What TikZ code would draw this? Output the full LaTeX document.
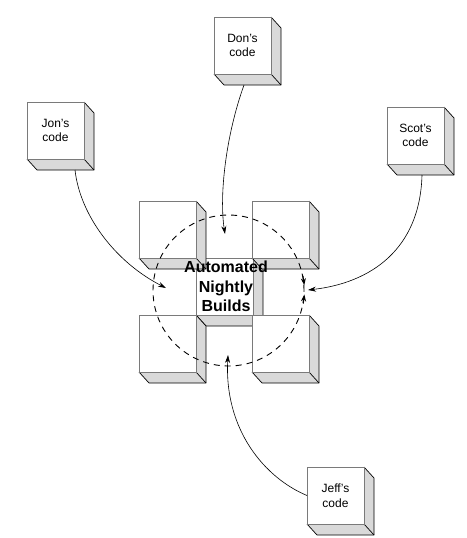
\documentclass[tikz,border=0pt]{standalone}
\usepackage{fontspec}
\setmainfont{Liberation Sans}
\usetikzlibrary{calc,arrows.meta}
\definecolor{facegray}{HTML}{D9D9D9}
\definecolor{edgegray}{HTML}{7A7A7A}
\tikzset{
  sidefill/.style={fill=facegray},
  sideedge/.style={draw=black,line width=0.7pt,line join=round},
  cubefront/.style={draw=edgegray,line width=0.8pt,fill=white,minimum size=57pt,inner sep=0pt,outer sep=0pt,
    align=center,font=\fontsize{12}{14.5}\selectfont},
  feed/.style={line width=0.6pt,-{Stealth[length=8pt,width=5pt]}},
  ringstyle/.style={circle,draw,line width=0.9pt,dash pattern=on 6pt off 5pt,minimum size=151pt,inner sep=0pt},
  ringtip/.style={line width=0.9pt,-{Stealth[length=7pt,width=5pt]}},
  title/.style={font=\fontsize{16}{19.5}\selectfont\bfseries,align=center}
}
\newcommand\mycube[4]{%
  \fill[sidefill] (#2+57,#3) -- (#2+67,#3+11) -- (#2+67,#3+68) -- (#2+10,#3+68) -- (#2,#3+57) -- (#2+57,#3+57) -- cycle;
  \draw[sideedge] (#2+57,#3) -- (#2+67,#3+11) -- (#2+67,#3+68) -- (#2+10,#3+68) -- (#2,#3+57);
  \draw[sideedge] (#2+57,#3+57) -- (#2+67,#3+68);
  \node[cubefront] (#1) at (#2+28.5,#3+28.5) {#4};%
}
\begin{document}
\begin{tikzpicture}[x=1pt,y=-1pt]
\useasboundingbox (0,0) rectangle (466,538);
% outer cubes
\mycube{don}{214}{17}{Don’s\\code}
\mycube{jon}{27}{102}{Jon’s\\code}
\mycube{scot}{387}{107}{Scot’s\\code}
\mycube{jeff}{307}{467}{Jeff’s\\code}
% centre cube, then the four around it
\mycube{core}{196}{258}{}
\mycube{ul}{139}{201}{}
\mycube{ur}{252}{201}{}
\mycube{ll}{139}{315}{}
\mycube{lr}{252}{315}{}
% dashed ring
\node[ringstyle] (ring) at (228.5,290.5) {};
\draw[ringtip] (ring.-10) -- (ring.-3.5);
\draw[ringtip] (ring.11) -- (ring.4);
% title
\node[title] (label) at (226,286.5) {Automated\\Nightly\\Builds};
% arrow ends
\coordinate (dontip) at (225,234);
\coordinate (jontip) at (166,288);
\coordinate (scottip) at (308,290);
\coordinate (jefftip) at (228,355);
\draw[feed] ($(don.south)+(1.5,11)$) .. controls (226,135) and (219,195) .. (dontip);
\draw[feed] ($(jon.south)+(19.5,11)$) .. controls (80,215) and (115,262) .. (jontip);
\draw[feed] ($(scot.south)+(6.5,11)$) .. controls (420,250) and (370,283) .. (scottip);
\draw[feed] (jeff.west) .. controls (265,478) and (224,430) .. (jefftip);
\end{tikzpicture}
\end{document}
